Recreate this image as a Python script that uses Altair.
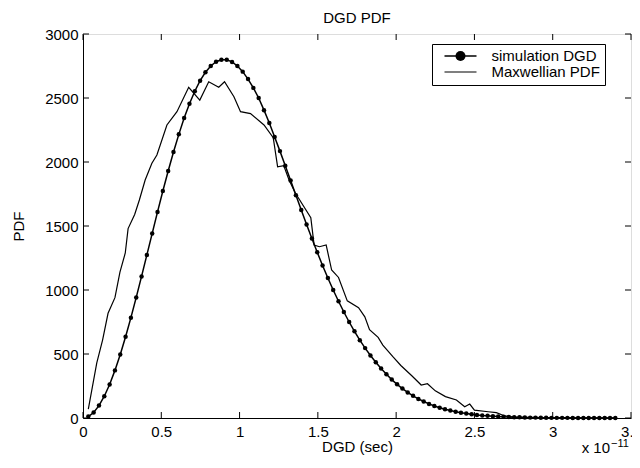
import altair as alt
import pandas as pd

# ---- data ----
series_names = ["simulation DGD", "Maxwellian PDF"]

sim_x = [0.034, 0.068, 0.102, 0.136, 0.17, 0.204, 0.238, 0.272, 0.306, 0.34,
         0.374, 0.408, 0.442, 0.476, 0.51, 0.544, 0.578, 0.612, 0.646, 0.68,
         0.714, 0.748, 0.782, 0.816, 0.85, 0.884, 0.918, 0.952, 0.986, 1.02,
         1.054, 1.088, 1.122, 1.156, 1.19, 1.224, 1.258, 1.292, 1.326, 1.36,
         1.394, 1.428, 1.462, 1.496, 1.53, 1.564, 1.598, 1.632, 1.666, 1.7,
         1.734, 1.768, 1.802, 1.836, 1.87, 1.904, 1.938, 1.972, 2.006, 2.04,
         2.074, 2.108, 2.142, 2.176, 2.21, 2.244, 2.278, 2.312, 2.346, 2.38,
         2.414, 2.448, 2.482, 2.516, 2.55, 2.584, 2.618, 2.652, 2.686, 2.72,
         2.754, 2.788, 2.822, 2.856, 2.89, 2.924, 2.958, 2.992, 3.026, 3.06,
         3.094, 3.128, 3.162, 3.196, 3.23, 3.264, 3.298, 3.332, 3.366, 3.4]
sim_y = [11, 43, 97, 170, 262, 372, 496, 635, 784, 942,
         1106, 1274, 1442, 1610, 1773, 1930, 2078, 2216, 2343, 2455,
         2553, 2635, 2701, 2750, 2783, 2798, 2798, 2782, 2750, 2706,
         2648, 2579, 2500, 2405, 2305, 2195, 2085, 1970, 1855, 1740,
         1625, 1512, 1402, 1295, 1192, 1094, 1000, 912, 828, 750,
         677, 608, 546, 488, 435, 386, 341, 300, 263, 230,
         200, 173, 149, 129, 110, 94, 80, 68, 58, 49,
         41, 35, 29, 24, 20, 17, 14, 11, 9, 8,
         6, 5, 4, 3, 3, 2, 2, 1, 1, 1,
         1, 0, 0, 0, 0, 0, 0, 0, 0, 0]

max_x = [0.034, 0.088, 0.125, 0.16, 0.204, 0.236, 0.27, 0.288, 0.33, 0.36,
         0.397, 0.44, 0.472, 0.536, 0.6, 0.675, 0.746, 0.803, 0.867, 0.904,
         0.964, 1.006, 1.07, 1.156, 1.215, 1.243, 1.282, 1.316, 1.355, 1.455,
         1.476, 1.51, 1.553, 1.588, 1.632, 1.688, 1.76, 1.80, 1.83, 1.885,
         1.915, 1.979, 2.03, 2.1, 2.16, 2.2, 2.25, 2.315, 2.385, 2.438,
         2.47, 2.5, 2.588, 2.64, 2.694, 2.75, 2.85, 3.0, 3.2, 3.4]
max_y = [70, 430, 609, 818, 940, 1140, 1289, 1480, 1590, 1703,
         1859, 1990, 2055, 2289, 2393, 2584, 2484, 2627, 2584, 2627,
         2510, 2393, 2378, 2289, 2190, 1963, 1972, 1859, 1760, 1565,
         1352, 1338, 1352, 1156, 1098, 915, 862, 790, 690, 630,
         570, 479, 410, 330, 258, 268, 212, 167, 141, 88,
         109, 62, 49, 42, 16, 8, 3, 2, 1, 0]

x_ticks = [0, 0.5, 1, 1.5, 2, 2.5, 3, 3.5]
y_ticks = [0, 500, 1000, 1500, 2000, 2500, 3000]

df_sim = pd.DataFrame({"x": sim_x, "y": sim_y, "series": series_names[0],
                       "series2": series_names[0]})
df_max = pd.DataFrame({"x": max_x, "y": max_y, "series": series_names[1]})
df = pd.concat([df_sim[["x", "y", "series"]], df_max], ignore_index=True)
df_xt = pd.DataFrame({"v": x_ticks})
df_yt = pd.DataFrame({"v": y_ticks})

FONT = "Liberation Sans"
FS = 15
TICK = 6
W, H = 548, 384

xscale = alt.Scale(domain=[0, 3.5], nice=False, zero=False)
yscale = alt.Scale(domain=[0, 3000], nice=False)

common_axis = dict(grid=False, domainColor="black", domainWidth=1, ticks=False,
                   labelFlush=False, labelFont=FONT, labelFontSize=FS,
                   labelColor="black", titleFont=FONT, titleFontSize=FS,
                   titleFontWeight="normal", titleColor="black")

x_bottom = alt.Axis(values=x_ticks, format="~g", title="DGD (sec)", orient="bottom",
                    labelPadding=6, titlePadding=0, **common_axis)
y_left = alt.Axis(values=y_ticks, format="d", title="PDF", orient="left",
                  labelPadding=5, titlePadding=18, **common_axis)

LEG_X, LEG_Y = 349, 10
LEG_PAD = 4.5
SYM_OFF = 16.5
LAB_OFF = 23.5
line_path = "M-3.2,0H3.2"
dot_path = "M-0.5,0a0.5,0.5 0 1,0 1,0a0.5,0.5 0 1,0 -1,0"
pad_expr = "datum.label + '\u00a0\u00a0\u00a0'"

legend_lines = alt.Legend(
    title=None, orient="none", legendX=LEG_X, legendY=LEG_Y, direction="vertical",
    padding=LEG_PAD, strokeColor="black", fillColor="white", cornerRadius=0,
    symbolType=line_path, symbolSize=100, symbolStrokeWidth=1.3,
    symbolStrokeColor="black", symbolOffset=SYM_OFF,
    labelOffset=LAB_OFF, labelFont=FONT, labelFontSize=FS, labelColor="black",
    rowPadding=-1, labelLimit=400, labelExpr=pad_expr,
)
legend_dot = alt.Legend(
    title=None, orient="none", legendX=LEG_X, legendY=LEG_Y, direction="vertical",
    padding=LEG_PAD, symbolType=dot_path, symbolSize=100, symbolStrokeWidth=1,
    symbolFillColor="black", symbolStrokeColor="black", symbolOffset=SYM_OFF,
    labelOffset=LAB_OFF, labelFont=FONT, labelFontSize=FS, labelOpacity=0,
    rowPadding=-1, labelLimit=400, labelExpr=pad_expr,
)

lines = alt.Chart(df).mark_line().encode(
    x=alt.X("x:Q", scale=xscale, axis=x_bottom),
    y=alt.Y("y:Q", scale=yscale, axis=y_left),
    color=alt.Color("series:N", scale=alt.Scale(domain=series_names, range=["black", "black"]),
                    legend=legend_lines),
    strokeWidth=alt.StrokeWidth("series:N", scale=alt.Scale(domain=series_names, range=[1.5, 1.2]),
                                legend=None),
    detail="series:N",
)

points = alt.Chart(df_sim).mark_point(filled=True, color="black", size=20, opacity=1).encode(
    x=alt.X("x:Q", scale=xscale),
    y=alt.Y("y:Q", scale=yscale),
    shape=alt.Shape("series2:N", scale=alt.Scale(range=["circle"]), legend=legend_dot),
)

# inward tick marks on all four sides (MATLAB box style)
tick_bottom = alt.Chart(df_xt).mark_rule(color="black", strokeWidth=1).encode(
    x=alt.X("v:Q", scale=xscale), y=alt.value(H), y2=alt.value(H - TICK))
tick_top = alt.Chart(df_xt).mark_rule(color="black", strokeWidth=1).encode(
    x=alt.X("v:Q", scale=xscale), y=alt.value(0), y2=alt.value(TICK))
tick_left = alt.Chart(df_yt).mark_rule(color="black", strokeWidth=1).encode(
    y=alt.Y("v:Q", scale=yscale), x=alt.value(0), x2=alt.value(TICK))
tick_right = alt.Chart(df_yt).mark_rule(color="black", strokeWidth=1).encode(
    y=alt.Y("v:Q", scale=yscale), x=alt.value(W), x2=alt.value(W - TICK))

exp_base = alt.Chart(pd.DataFrame({"t": ["x 10"]})).mark_text(
    font=FONT, fontSize=FS, align="right", baseline="alphabetic", color="black"
).encode(text="t:N", x=alt.value(527), y=alt.value(419))
exp_sup = alt.Chart(pd.DataFrame({"t": ["\u221211"]})).mark_text(
    font=FONT, fontSize=11, align="left", baseline="alphabetic", color="black"
).encode(text="t:N", x=alt.value(528), y=alt.value(413))

chart = alt.layer(
    lines, points, tick_bottom, tick_top, tick_left, tick_right, exp_base, exp_sup
).properties(
    width=W, height=H,
    title=alt.Title("DGD PDF", font=FONT, fontSize=FS, fontWeight="normal",
                    color="black", offset=1, anchor="middle"),
    autosize=alt.AutoSizeParams(type="none"),
    padding={"left": 75, "top": 26, "right": 1, "bottom": 38},
).configure_view(stroke="black", strokeWidth=1).configure(background="white")

chart.save("out.html", embed_options={"renderer": "svg", "actions": False})
